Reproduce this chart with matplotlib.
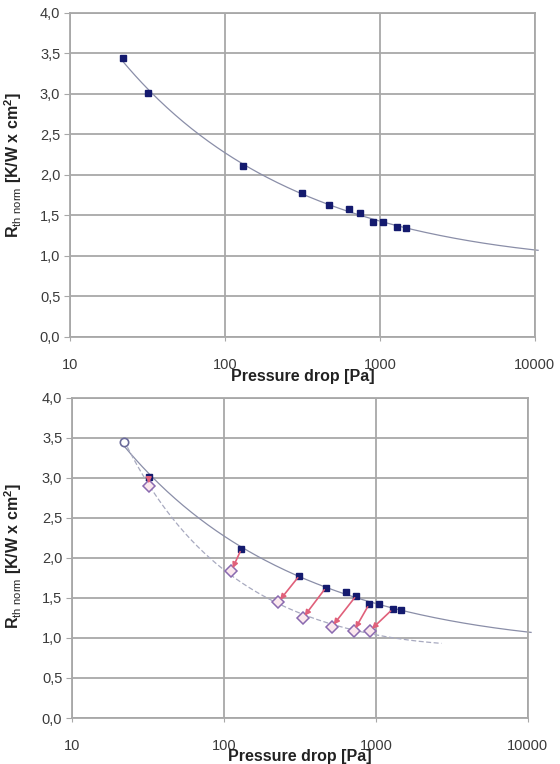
import numpy as np
import matplotlib.pyplot as plt
from matplotlib.ticker import FuncFormatter, FixedLocator

plt.rcParams['font.family'] = ['Liberation Sans', 'DejaVu Sans']
plt.rcParams['mathtext.fontset'] = 'custom'
plt.rcParams['mathtext.rm'] = 'Liberation Sans'
plt.rcParams['mathtext.bf'] = 'Liberation Sans:bold'

# measured points (filled squares)
dp_meas = [32, 130, 314, 469, 631, 743, 901, 1045, 1288, 1472]
r_meas = [3.01, 2.11, 1.78, 1.63, 1.58, 1.53, 1.42, 1.42, 1.36, 1.35]

# common starting point
dp_start = 22
r_start = 3.45

# improved points (open diamonds), lower chart
dp_new = [32, 112, 228, 331, 513, 717, 912]
r_new = [2.9, 1.84, 1.45, 1.25, 1.14, 1.09, 1.09]
# which measured point each arrow starts from
arrow_from = [0, 1, 2, 3, 5, 6, 8]

# trend line ranges
upper_range = (22, 10500)
lower_range = (22, 2700)

sq_color = '#141a6e'
line_color = '#8a8ea8'
grid_color = '#a8a8a8'
arrow_color = '#e0607a'


def loglog_fit(x, y, xr):
    p = np.polyfit(np.log10(x), np.log10(y), 2)
    xs = np.logspace(np.log10(xr[0]), np.log10(xr[1]), 200)
    return xs, 10 ** np.polyval(p, np.log10(xs))


def style_axes(ax, ylab_x, ylab_y):
    ax.set_xscale('log')
    ax.set_xlim(10, 10000)
    ax.set_ylim(0, 4)
    ax.set_yticks(np.arange(0, 4.01, 0.5))
    ax.yaxis.set_major_formatter(FuncFormatter(lambda v, p: f"{v:.1f}".replace('.', ',')))
    ax.xaxis.set_major_locator(FixedLocator([10, 100, 1000, 10000]))
    ax.xaxis.set_minor_locator(FixedLocator([]))
    ax.xaxis.set_major_formatter(FuncFormatter(lambda v, p: f"{int(round(v))}"))
    ax.grid(True, color=grid_color, linewidth=1.3)
    ax.set_axisbelow(True)
    for s in ax.spines.values():
        s.set_color(grid_color)
        s.set_linewidth(1.3)
    ax.tick_params(axis='y', length=4, color=grid_color, labelsize=10.5, labelcolor='#3a3a3a', pad=3)
    ax.tick_params(axis='x', length=3, color=grid_color, labelsize=10.5, labelcolor='#3a3a3a', pad=12)
    ax.set_xlabel('Pressure drop [Pa]', fontsize=11.5, fontweight='bold', color='#222222')
    ax.xaxis.set_label_coords(0.5, -0.098)
    ax.set_ylabel(r'R$_{\mathrm{th\ norm}}$ [K/W x cm$^{\mathbf{2}}$]', fontsize=11.5,
                  fontweight='bold', color='#222222')
    ax.yaxis.set_label_coords(ylab_x, ylab_y)


fig = plt.figure(figsize=(5.6, 7.64), dpi=100)
ax1 = fig.add_axes([0.125, 0.559, 0.830, 0.424])
ax2 = fig.add_axes([0.1286, 0.0602, 0.814, 0.419])

x_all = [dp_start] + dp_meas
y_all = [r_start] + r_meas
xs, ys = loglog_fit(x_all, y_all, upper_range)

# top chart
style_axes(ax1, -0.098, 0.53)
ax1.plot(xs, ys, color=line_color, linewidth=0.9, clip_on=False)
ax1.plot(x_all, y_all, 's', color=sq_color, markersize=5, linestyle='none')

# bottom chart
style_axes(ax2, -0.105, 0.505)
xl, yl = loglog_fit([dp_start] + dp_new, [r_start] + r_new, lower_range)
ax2.plot(xs, ys, color=line_color, linewidth=0.9, clip_on=False)
ax2.plot(xl, yl, color='#a8aac0', linewidth=0.9, linestyle=(0, (4, 2)))
ax2.plot(dp_meas, r_meas, 's', color=sq_color, markersize=5, linestyle='none')
ax2.plot(dp_new, r_new, 'D', markerfacecolor='#fbe8ee', markeredgecolor='#8a6ab0',
         markeredgewidth=1.1, markersize=6, linestyle='none')
for i, j in enumerate(arrow_from):
    ax2.annotate('', xy=(dp_new[i], r_new[i]), xytext=(dp_meas[j], r_meas[j]),
                 arrowprops=dict(arrowstyle='-|>', color=arrow_color, lw=1.2,
                                 mutation_scale=8, shrinkA=2, shrinkB=2))
ax2.plot([dp_start], [r_start], 'o', markerfacecolor='white', markeredgecolor='#6a6a9a',
         markeredgewidth=1.2, markersize=6)

fig.savefig('out.png', dpi=100)
